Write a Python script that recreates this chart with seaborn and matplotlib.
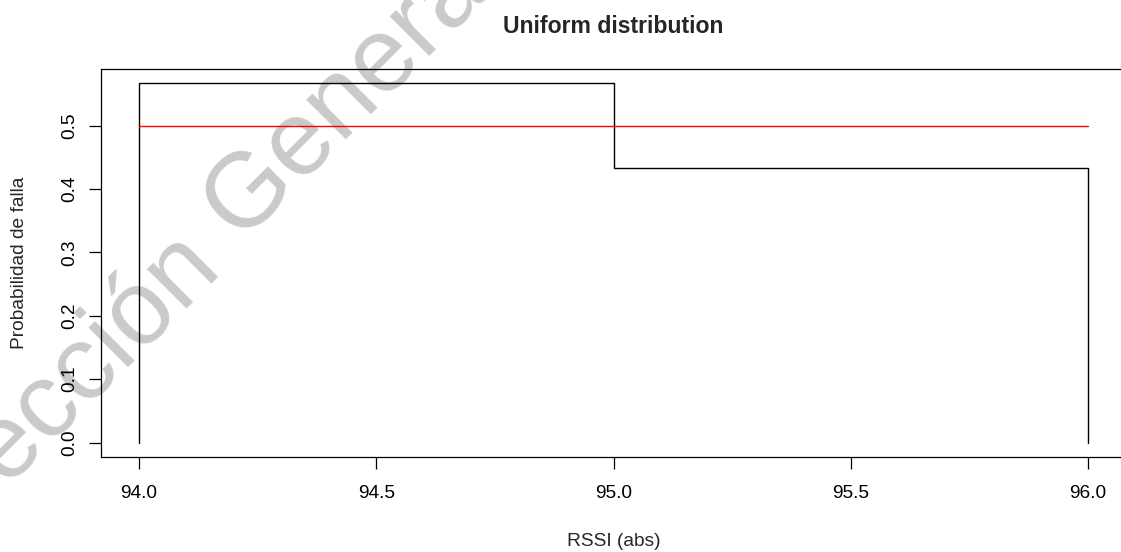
import numpy as np
import pandas as pd
import seaborn as sns
import matplotlib
matplotlib.use("Agg")
import matplotlib.pyplot as plt

# ---- data ----
bin_edges = [94.0, 95.0, 96.0]
fail_prob = [0.5667, 0.4333]
uniform_x = [94.0, 96.0]
uniform_y = [0.5, 0.5]
x_ticks = [94.0, 94.5, 95.0, 95.5, 96.0]
y_ticks = [0.0, 0.1, 0.2, 0.3, 0.4, 0.5]
title = "Uniform distribution"
xlabel = "RSSI (abs)"
ylabel = "Probabilidad de falla"
watermark_left = "Dirección"
watermark_right = "General de Bibliotecas"

sns.set_style("white")
plt.rcParams["font.family"] = ["Liberation Sans", "DejaVu Sans"]

W, H = 1121, 552
fig = plt.figure(figsize=(W / 100, H / 100), dpi=100)
ax = fig.add_axes([101 / W, (H - 457) / H, 1025 / W, 388 / H])
ax.patch.set_alpha(0)

step_x = [bin_edges[0]] + bin_edges[:-1] + [bin_edges[-1], bin_edges[-1]]
step_y = [0.0] + fail_prob + [fail_prob[-1], 0.0]
steps = pd.DataFrame({"x": step_x, "y": step_y})

sns.lineplot(data=steps, x="x", y="y", ax=ax, sort=False, estimator=None,
             drawstyle="steps-post", color="black", lw=1.0)
sns.lineplot(x=uniform_x, y=uniform_y, ax=ax, color="#ff0000", lw=1.0)

# R-style 4% extension
xr = bin_edges[-1] - bin_edges[0]
ax.set_xlim(bin_edges[0] - 0.04 * xr, bin_edges[-1] + 0.04 * xr)
ymax = max(fail_prob)
ax.set_ylim(-0.04 * ymax, ymax * 1.04)

ax.set_xticks(x_ticks)
ax.set_xticklabels([f"{v:.1f}" for v in x_ticks])
ax.set_yticks(y_ticks)
ax.set_yticklabels([f"{v:.1f}" for v in y_ticks], rotation=90, va="center")

fs = 13.8
ax.tick_params(axis="both", direction="out", length=8.5, width=0.9,
               color="black", labelsize=fs, labelcolor="black",
               bottom=True, left=True)
ax.tick_params(axis="x", pad=12)
ax.tick_params(axis="y", pad=8)
for s in ax.spines.values():
    s.set_visible(True)
    s.set_color("black")
    s.set_linewidth(0.9)

ax.set_xlabel(xlabel, fontsize=fs)
ax.set_ylabel(ylabel, fontsize=fs)
ax.xaxis.label.set_va("center")
ax.yaxis.label.set_va("center")
ax.xaxis.set_label_coords(0.5, (457 - 541) / 388)
ax.yaxis.set_label_coords((20 - 101) / 1025, 0.5)
ax.set_title(title, fontsize=16.6, fontweight="bold", pad=26)

# watermark (pixel-based placement)
ang = 45.0
Fpx = 106.0
c, s_ = np.cos(np.radians(ang)), np.sin(np.radians(ang))
base = np.array([c, -s_])      # along baseline, pixel coords (y down)
up = np.array([-s_, -c])       # glyph "up"
g_center = np.array([244.0, 188.0])
origin = g_center - 0.39 * Fpx * base - 0.36 * Fpx * up
left_end = origin - 0.278 * Fpx * base
wm = dict(fontsize=Fpx * 0.72, color="#cacaca", rotation=ang,
          rotation_mode="anchor", va="baseline", zorder=-1)
fig.text(left_end[0] / W, 1 - left_end[1] / H, watermark_left, ha="right", **wm)
fig.text(origin[0] / W, 1 - origin[1] / H, watermark_right, ha="left", **wm)

fig.savefig("out.png", dpi=100)
